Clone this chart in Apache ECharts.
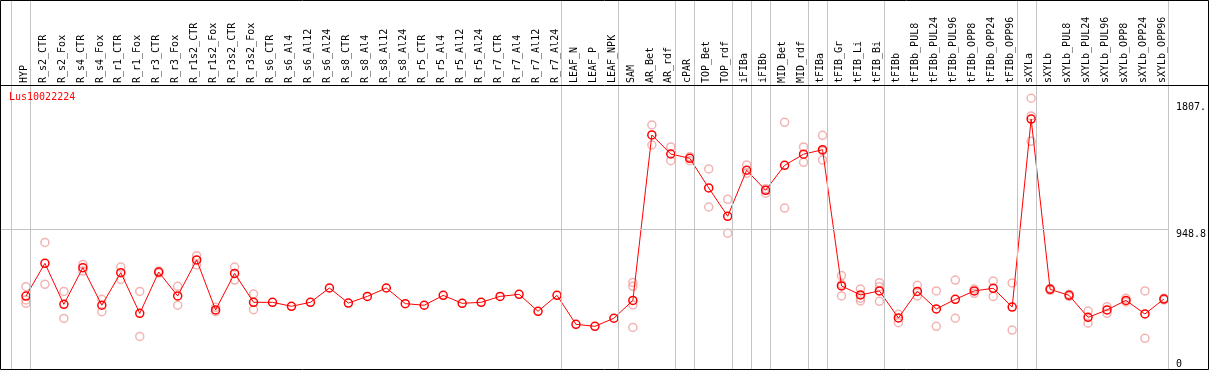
<!DOCTYPE html>
<html>
<head>
<meta charset="utf-8">
<script src="https://cdn.jsdelivr.net/npm/echarts@6/dist/echarts.min.js"></script>
<style>
html,body{margin:0;padding:0;background:#fff;}
#chart{width:1209px;height:370px;}
</style>
</head>
<body>
<div id="chart"></div>
<script>
const chartTitle = 'Lus10022224';
const categories = ['HYP','R_s2_CTR','R_s2_Fox','R_s4_CTR','R_s4_Fox','R_r1_CTR','R_r1_Fox','R_r3_CTR','R_r3_Fox','R_r1s2_CTR','R_r1s2_Fox','R_r3s2_CTR','R_r3s2_Fox','R_s6_CTR','R_s6_Al4','R_s6_Al12','R_s6_Al24','R_s8_CTR','R_s8_Al4','R_s8_Al12','R_s8_Al24','R_r5_CTR','R_r5_Al4','R_r5_Al12','R_r5_Al24','R_r7_CTR','R_r7_Al4','R_r7_Al12','R_r7_Al24','LEAF_N','LEAF_P','LEAF_NPK','SAM','AR_Bet','AR_rdf','cPAR','TOP_Bet','TOP_rdf','iFIBa','iFIBb','MID_Bet','MID_rdf','tFIBa','tFIB_Gr','tFIB_Li','tFIB_Bi','tFIBb','tFIBb_PUL8','tFIBb_PUL24','tFIBb_PUL96','tFIBb_OPP8','tFIBb_OPP24','tFIBb_OPP96','sXYLa','sXYLb','sXYLb_PUL8','sXYLb_PUL24','sXYLb_PUL96','sXYLb_OPP8','sXYLb_OPP24','sXYLb_OPP96'];
const meanValues = [494,716,438,687,432,653,377,657,495,739,400,648,452,452,425,452,549,447,492,549,443,432,499,445,452,492,506,391,499,303,289,344,465,1586,1457,1428,1227,1035,1347,1211,1380,1456,1486,563,502,529,346,526,407,472,529,547,420,1694,540,499,350,400,465,373,474];
const replicateValues = [
  [558,468,445],[858,574],[526,343],[709,664],[472,388],[691,607],[526,221],[664,650],[560,432],[768,705],[418,388],[691,603],[508,402],
  [],[],[],[],[],[],[],[],[],[],[],[],[],[],[],[],[],[],[],
  [587,560,434,282],[1654,1518],[1505,1412],[1439,1412],[1356,1098],[1150,920],[1383,1326],[1222,1191],[1672,1091],[1505,1401],
  [1584,1478,1417],[633,574,495],[542,479,461],[585,558,459],[371,314],[567,495],[529,289],[603,344],[542,513],[596,492],[583,264],
  [1835,1715,1543],[548,533],[507,492],[393,310],[422,377],[479,454],[529,208],[480,468]
];
// indices of the last category of each group (separator drawn after it)
const groupEnds = [-1,0,28,31,34,35,37,38,39,41,42,45,52,53,60];
const yTickValues = [0, 948.8, 1807];
const yTickLabels = ['0', '948.8', '1807.'];
const yDataTop = 1897.6;

const FONT = 'DejaVu Sans Mono';
const chart = echarts.init(document.getElementById('chart'), null, {renderer: 'canvas'});

const meanData = meanValues.map((v, i) => [i, v]);
const repData = [];
replicateValues.forEach((arr, i) => arr.forEach(v => repData.push([i, v])));

// geometry: plot spans px 1..1171, points every 19px starting at 26
const xMin = -25 / 19, xMax = 1145 / 19;
const plotH = 369;                 // grid from y=0 to y=369
const yMax = yDataTop * plotH / 280; // data range 0..1897.6 spans 280px

function yLabel(v) {
  let best = 0;
  yTickValues.forEach((t, k) => { if (Math.abs(t - v) < Math.abs(yTickValues[best] - v)) best = k; });
  return yTickLabels[best];
}

chart.setOption({
  animation: false,
  backgroundColor: '#fff',
  title: {
    text: chartTitle, left: 9, top: 92, padding: 0,
    textStyle: {color: '#ff0000', fontSize: 10, fontWeight: 'normal', fontFamily: FONT}
  },
  grid: {left: 1, right: 38, top: 0, bottom: 1, containLabel: false},
  xAxis: {
    type: 'value', min: xMin, max: xMax, position: 'top', offset: -85,
    axisLine: {show: false}, axisTick: {show: false}, splitLine: {show: false},
    axisLabel: {
      customValues: categories.map((c, i) => i - 0.1),
      formatter: v => categories[Math.round(v)] || '',
      rotate: 90, margin: 2, color: '#000', fontSize: 10, fontFamily: FONT
    }
  },
  yAxis: [{
    type: 'value', min: 0, max: yMax, position: 'right',
    axisLine: {show: false}, axisTick: {show: false}, splitLine: {show: false},
    axisLabel: {
      customValues: [yTickValues[1], yTickValues[2]], formatter: yLabel,
      verticalAlign: 'top', align: 'left', margin: 7, color: '#000', fontSize: 10, fontFamily: FONT
    }
  }, {
    type: 'value', min: 0, max: yMax, position: 'right',
    axisLine: {show: false}, axisTick: {show: false}, splitLine: {show: false},
    axisLabel: {
      customValues: [yTickValues[0]], formatter: yLabel,
      verticalAlign: 'bottom', align: 'left', margin: 7, color: '#000', fontSize: 10, fontFamily: FONT
    }
  }],
  graphic: [
    {type: 'rect', shape: {x: 0.5, y: 0.5, width: 1208, height: 369}, style: {fill: 'none', stroke: '#000', lineWidth: 1}, z: 100},
    {type: 'line', shape: {x1: 0, y1: 85.5, x2: 1209, y2: 85.5}, style: {stroke: '#000', lineWidth: 1}, z: 100}
  ],
  series: [
    {
      type: 'scatter', name: 'replicates', data: repData, z: 2,
      symbol: 'circle', symbolSize: 8,
      itemStyle: {color: 'rgba(0,0,0,0)', borderColor: '#f0a0a0', borderWidth: 1.5},
      markLine: {
        silent: true, symbol: 'none', label: {show: false}, animation: false,
        lineStyle: {color: '#c4c4c4', type: 'solid', width: 1},
        data: groupEnds.map(e => ({xAxis: e + 0.25})).concat([{yAxis: yTickValues[1]}])
      }
    },
    {
      type: 'line', name: 'mean', data: meanData, z: 3,
      symbol: 'circle', symbolSize: 8, showSymbol: true,
      lineStyle: {color: '#ff0000', width: 1},
      itemStyle: {color: 'rgba(0,0,0,0)', borderColor: '#ff0000', borderWidth: 1.5}
    }
  ]
});
</script>
</body>
</html>
